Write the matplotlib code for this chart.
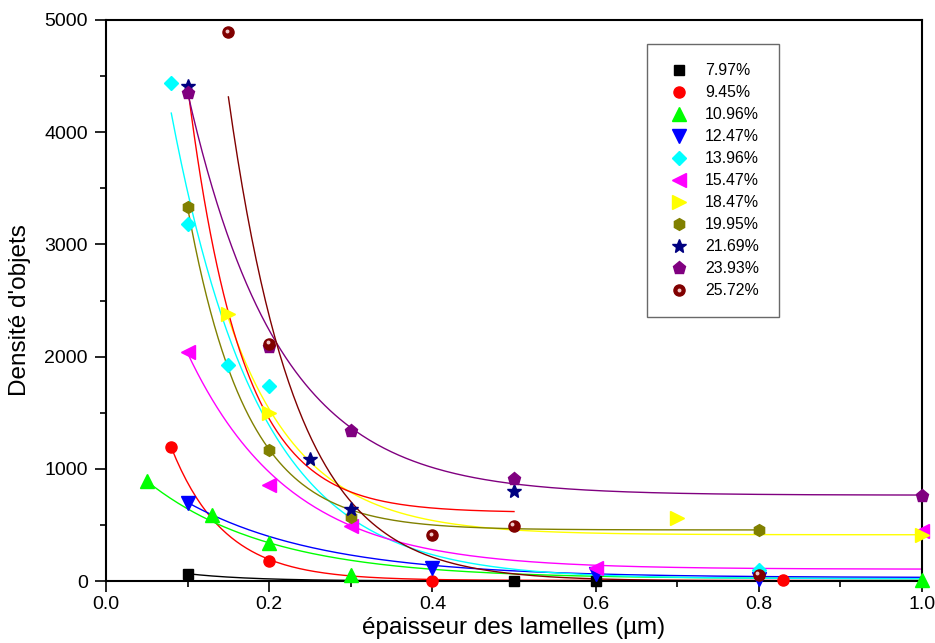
import matplotlib
matplotlib.use("Agg")
import matplotlib.pyplot as plt
import numpy as np
from matplotlib.legend_handler import HandlerTuple
from matplotlib.ticker import MultipleLocator
from matplotlib.transforms import offset_copy

plt.rcParams.update({
    "font.family": ["Liberation Sans", "DejaVu Sans"],
    "font.size": 14,
    "axes.linewidth": 1.5,
    "xtick.major.width": 1.2,
    "ytick.major.width": 1.2,
    "xtick.minor.width": 1.2,
    "ytick.minor.width": 1.2,
    "xtick.major.size": 8,
    "ytick.major.size": 8,
    "xtick.minor.size": 4.3,
    "ytick.minor.size": 4.3,
})

# measured points (thickness in um, object density)
labels = ["7.97%", "9.45%", "10.96%", "12.47%", "13.96%", "15.47%",
          "18.47%", "19.95%", "21.69%", "23.93%", "25.72%"]

x_797 = [0.1, 0.5, 0.6]
y_797 = [62, 0, 0]
x_945 = [0.08, 0.2, 0.4, 0.83]
y_945 = [1191, 178, 0, 5]
x_1096 = [0.05, 0.13, 0.2, 0.3, 1.0]
y_1096 = [893, 588, 341, 53, 10]
x_1247 = [0.1, 0.4, 0.6, 0.8]
y_1247 = [698, 119, 62, 20]
x_1396 = [0.08, 0.1, 0.15, 0.2, 0.8]
y_1396 = [4437, 3178, 1922, 1737, 100]
x_1547 = [0.1, 0.2, 0.3, 0.6, 1.0]
y_1547 = [2037, 858, 490, 119, 445]
x_1847 = [0.15, 0.2, 0.7, 1.0]
y_1847 = [2379, 1500, 558, 410]
x_1995 = [0.1, 0.2, 0.3, 0.8]
y_1995 = [3329, 1167, 573, 454]
x_2169 = [0.1, 0.25, 0.3, 0.5]
y_2169 = [4410, 1090, 639, 805]
x_2393 = [0.1, 0.2, 0.3, 0.5, 1.0]
y_2393 = [4351, 2090, 1339, 909, 760]
x_2572 = [0.15, 0.2, 0.4, 0.5, 0.8]
y_2572 = [4889, 2112, 408, 490, 53]

# ExpDec1 fit parameters: y = y0 + A1 * exp(-x / t1)
fit_y0 = [0, 5, 20, 30, 20, 105, 412, 455, 610, 765, 0]
fit_A1 = [227, 4057, 1214, 1224, 8705, 4284, 9845, 11530, 17290, 8767, 26290]
fit_t1 = [0.08, 0.065, 0.15, 0.166, 0.108, 0.125, 0.092, 0.072, 0.066, 0.112, 0.083]
fit_xmin = [0.1, 0.08, 0.05, 0.1, 0.08, 0.1, 0.15, 0.1, 0.1, 0.1, 0.15]
fit_xmax = [1.0, 1.0, 1.0, 1.0, 1.0, 1.0, 1.0, 0.8, 0.5, 1.0, 1.0]

xs = [x_797, x_945, x_1096, x_1247, x_1396, x_1547,
      x_1847, x_1995, x_2169, x_2393, x_2572]
ys = [y_797, y_945, y_1096, y_1247, y_1396, y_1547,
      y_1847, y_1995, y_2169, y_2393, y_2572]

colors = ["#000000", "#ff0000", "#00ff00", "#0000ff", "#00ffff", "#ff00ff",
          "#ffff00", "#808000", "#000080", "#800080", "#800000"]
line_colors = ["#000000", "#ff0000", "#00ff00", "#0000ff", "#00ffff", "#ff00ff",
               "#ffff00", "#808000", "#ff0000", "#800080", "#800000"]
markers = ["s", "o", "^", "v", "D", "<", ">", "h", "*", "p", "o"]
sizes = [7, 8, 9.5, 9.5, 6.8, 9.5, 9.5, 8.5, 10.5, 9.5, 8]

fig = plt.figure(figsize=(9.35, 6.43), dpi=100)
ax = fig.add_axes([106 / 935, 1 - 581 / 643, 816 / 935, 561 / 643])

for i in range(len(labels)):
    xf = np.linspace(fit_xmin[i], fit_xmax[i], 300)
    yf = fit_y0[i] + fit_A1[i] * np.exp(-xf / fit_t1[i])
    ax.plot(xf, yf, color=line_colors[i], lw=1.0, zorder=2)

handles = []
for i in range(len(labels)):
    h, = ax.plot(xs[i], ys[i], linestyle="none", marker=markers[i],
                 ms=sizes[i], color=colors[i], mec=colors[i], clip_on=False,
                 zorder=3 + i * 0.01)
    handles.append(h)

# shiny highlight on the last series spheres
shine = offset_copy(ax.transData, fig=fig, x=-1.2, y=1.2, units="points")
ax.plot(x_2572, y_2572, linestyle="none", marker="o", ms=2.8,
        color="#f0c8c8", mec="none", transform=shine, clip_on=False, zorder=4)
dot, = ax.plot([], [], linestyle="none", marker="o", ms=2.8,
               color="#f0c8c8", mec="none")
handles[-1] = (handles[-1], dot)

ax.set_xlim(0, 1.0)
ax.set_ylim(0, 5000)
ax.xaxis.set_major_locator(MultipleLocator(0.2))
ax.xaxis.set_minor_locator(MultipleLocator(0.1))
ax.yaxis.set_major_locator(MultipleLocator(1000))
ax.yaxis.set_minor_locator(MultipleLocator(500))
ax.tick_params(which="both", direction="out", top=False, right=False)
ax.tick_params(axis="x", pad=3)
ax.tick_params(axis="y", pad=5)

ax.set_xlabel("épaisseur des lamelles (µm)", fontsize=17.5)
ax.set_ylabel("Densité d'objets", fontsize=17.5)
ax.xaxis.set_label_coords(0.5, -0.064)
ax.yaxis.set_label_coords(-0.092, 0.483)

leg = ax.legend(handles, labels, loc="upper left",
                bbox_to_anchor=(0.663, 0.957), fontsize=11.4,
                frameon=True, fancybox=False, borderpad=1.22,
                labelspacing=0.44, handlelength=1.6, handletextpad=0.85,
                numpoints=1, borderaxespad=0,
                handler_map={tuple: HandlerTuple(ndivide=1)})
leg.get_frame().set_edgecolor("#444444")
leg.get_frame().set_linewidth(1.0)
leg.set_zorder(5)

fig.savefig("out.png", dpi=100)
